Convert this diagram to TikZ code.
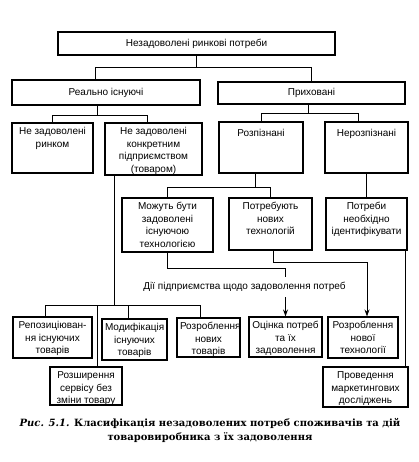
\documentclass[tikz,border=0pt]{standalone}
\usepackage{fontspec}
\setmainfont{Liberation Sans}
\newfontfamily\capfont{DejaVu Serif}
\usetikzlibrary{arrows.meta,calc}
\tikzset{
  bx/.style={draw, line width=1.1pt, inner sep=3pt, font=\fontsize{10}{12.5}\selectfont},
  cn/.style={line width=0.9pt},
  ar/.style={line width=0.9pt, -{Stealth[length=7pt,width=5pt]}},
  lbl/.style={fill=white, inner xsep=1pt, inner ysep=5pt, font=\fontsize{10}{12}\selectfont},
  captext/.style={font=\capfont\bfseries\fontsize{10}{14}\selectfont, inner sep=0pt, align=center}
}
\newcommand\tbox[7][0pt]{%
  \pgfmathsetlengthmacro\bw{#5-#3-6}%
  \pgfmathsetlengthmacro\bh{#6-#4-6}%
  \node[bx, minimum width={#5-#3}, minimum height={#6-#4}] (#2) at ({(#3+#5)/2},{(#4+#6)/2})
    {\parbox[c][\bh][t]{\bw}{\centering\vspace*{#1}\strut #7\par}};}
\newcommand\cbox[6]{%
  \node[bx, minimum width={#4-#2}, minimum height={#5-#3}] (#1) at ({(#2+#4)/2},{(#3+#5)/2}) {#6};}
\begin{document}
\begin{tikzpicture}[x=1pt,y=-1pt]
\useasboundingbox (0,0) rectangle (418,462);
% boxes
\cbox{top}{58}{32}{335}{55}{Незадоволені ринкові потреби}
\cbox{real}{12}{80}{200}{105}{Реально існуючі}
\cbox{hid}{218}{82}{405}{104}{Приховані}
\tbox{nzr}{12}{123}{93}{173}{Не задоволені\\ринком}
\tbox{konk}{105}{123}{202}{175}{Не задоволені\\конкретним\\підприємством\\(товаром)}
\tbox[3pt]{rozp}{219}{122}{303}{173}{Розпізнані}
\tbox[3pt]{nerozp}{325}{122}{408}{173}{Нерозпізнані}
\tbox{mozh}{122}{198}{213}{252}{Можуть бути\\задоволені\\існуючою\\технологією}
\tbox{potr}{229}{198}{312}{250}{Потребують\\нових\\технологій}
\tbox{ident}{326}{198}{407}{250}{Потреби\\необхідно\\ідентифікувати}
\tbox{rep}{13}{317}{92}{358}{Репозиціюван-\\ня існуючих\\товарів}
\tbox{mod}{102}{319}{167}{360}{Модифікація\\існуючих\\товарів}
\tbox{rnov}{177}{318}{240}{357}{Розроблення\\нових\\товарів}
\tbox{ocin}{249}{317}{322}{357}{Оцінка потреб\\та їх\\задоволення}
\tbox{rnt}{328}{317}{398}{358}{Розроблення\\нової\\технології}
\tbox{rozsh}{50}{367}{122}{405}{Розширення\\сервісу без\\зміни товару}
\tbox{prov}{323}{367}{408}{407}{Проведення\\маркетингових\\досліджень}
% junctions
\coordinate (j1) at ($(top.south)+(0,12)$);
\coordinate (j2) at ($(real.south)+(-9,10)$);
\coordinate (j3) at ($(hid.south)+(-3,9)$);
\coordinate (j4) at ($(rozp.south)+(-6,14)$);
\coordinate (j5) at ($(konk.south west)+(10,130)$);
\coordinate (h5L) at (45,305);
\coordinate (h5R) at (200,305);
\coordinate (h5a) at (97,305);
\coordinate (h5b) at (128,305);
% tree connectors
\draw[cn] (top.south) -- (j1);
\draw[cn] ($(real.north)+(-11,0)$) |- (j1) -| (hid.north);
\draw[cn] (real.south -| j2) -- (j2);
\draw[cn] (nzr.north) |- (j2) -| ($(konk.north)+(-6,0)$);
\draw[cn] (hid.south -| j3) -- (j3);
\draw[cn] (rozp.north) |- (j3) -| ($(nerozp.north)+(-8,0)$);
\draw[cn] (rozp.south -| j4) -- (j4);
\draw[cn] (mozh.north) |- (j4) -| (potr.north);
\draw[cn] (nerozp) -- (ident);
\draw[cn] ($(ident.south east)+(-2,0)$) -- ($(prov.north east)+(-3,0)$);
\draw[cn] (konk.south -| j5) -- (j5);
\draw[cn] (h5L) -- (h5R);
\draw[cn] (h5L) -- (h5L |- rep.north);
\draw[cn] (h5a) -- (h5a |- rozsh.north);
\draw[cn] (h5b) -- (h5b |- mod.north);
\draw[cn] (h5R) -- (h5R |- rnov.north);
% arrows
\draw[ar] (mozh.south) -- ++(0,16) -| (ocin.north);
\draw[ar] ($(potr.south)+(3,0)$) -- ++(0,12) -| ($(rnt.north)+(4,0)$);
\node[lbl] (act) at (244.5,287) {Дії підприємства щодо задоволення потреб};
% caption
\node[captext] (cap) at (210,430) {{\itshape Рис. 5.1.} Класифікація незадоволених потреб споживачів та дій\\товаровиробника з їх задоволення};
\end{tikzpicture}
\end{document}
